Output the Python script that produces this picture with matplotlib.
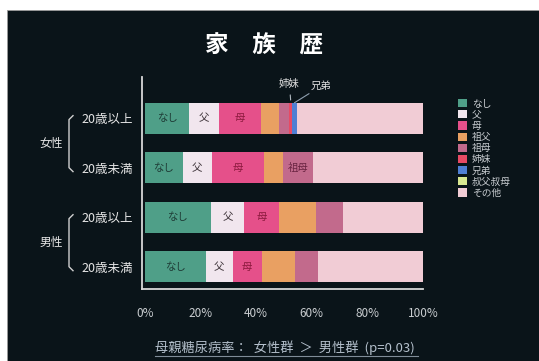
import matplotlib.pyplot as plt
from matplotlib.patches import Rectangle, Patch
from matplotlib.lines import Line2D
from matplotlib.transforms import blended_transform_factory
import numpy as np

plt.rcParams['font.family'] = ['Noto Sans CJK JP', 'DejaVu Sans']

# 家族歴の内訳 (%)
rows = ['20歳以上', '20歳未満', '20歳以上', '20歳未満']
groups = ['女性', '男性']
categories = ['なし', '父', '母', '祖父', '祖母', '姉妹', '兄弟', '叔父叔母', 'その他']
nashi  = [15.8, 13.5, 23.6, 21.8]
chichi = [10.8, 10.5, 12.1, 9.7]
haha   = [15.1, 18.8, 12.6, 10.5]
sofu   = [6.6, 6.7, 13.2, 12.0]
sobo   = [3.6, 11.1, 9.8, 8.3]
shimai = [1.1, 0.0, 0.0, 0.0]
kyodai = [1.5, 0.0, 0.0, 0.0]
ojioba = [0.0, 0.0, 0.0, 0.0]
sonota = [45.5, 39.4, 28.7, 37.7]
xticks = [0, 20, 40, 60, 80, 100]

colors = ['#4f9f88', '#f1e6ee', '#e5508a', '#e9a062', '#c26a8c',
          '#e84a64', '#4f7fd4', '#d9e890', '#f1ccd5']
label_colors = {'なし': '#1f3d37', '父': '#3a3036', '母': '#8c1a3e', '祖母': '#6a2442'}
# どのセグメントに文字を入れるか (行, 区分)
seg_labels = [(0, 'なし'), (0, '父'), (0, '母'),
              (1, 'なし'), (1, '父'), (1, '母'), (1, '祖母'),
              (2, 'なし'), (2, '父'), (2, '母'),
              (3, 'なし'), (3, '父'), (3, '母')]

bg = '#0a1419'
fig = plt.figure(figsize=(5.39, 3.61), dpi=100, facecolor='white')
W, H = 539, 361
fig.patches.append(Rectangle((7 / W, 0), 1, 1 - 10 / H, transform=fig.transFigure,
                             facecolor=bg, edgecolor='#9a9a9a', lw=0.6, zorder=-1))

ax = fig.add_axes([141.7 / W, 1 - 289 / H, 281.3 / W, 212 / H])
ax.set_facecolor(bg)

data = np.array([nashi, chichi, haha, sofu, sobo, shimai, kyodai, ojioba, sonota])
y = np.arange(len(rows))
left = np.zeros(len(rows))
segs = {}
for cat, vals, c in zip(categories, data, colors):
    ax.barh(y, vals, left=left, height=0.63, color=c, edgecolor='none', label=cat)
    for i in range(len(rows)):
        segs[(i, cat)] = (left[i], vals[i])
    left = left + vals

for i, cat in seg_labels:
    l, w = segs[(i, cat)]
    ax.text(l + w / 2, y[i], cat, ha='center', va='center', fontsize=7.5,
            color=label_colors[cat])

ax.set_xlim(-1.2, 100)
ax.set_ylim(3.45, -0.83)
ax.set_xticks(xticks)
ax.set_xticklabels([f'{t}%' for t in xticks])
ax.set_yticks(y)
ax.set_yticklabels(rows)
ax.tick_params(axis='x', length=0, pad=13, labelsize=8.5, colors='#c9cdd0')
ax.tick_params(axis='y', length=0, pad=6, labelsize=9, colors='#e6e6e6')
for s in ['top', 'right']:
    ax.spines[s].set_visible(False)
for s in ['left', 'bottom']:
    ax.spines[s].set_color('#d8d8d8')
    ax.spines[s].set_linewidth(1.3)

# 姉妹・兄弟の引き出し線
l, w = segs[(0, '姉妹')]
ax.annotate('姉妹', xy=(l + w / 2, -0.31), xytext=(l + w / 2 - 0.5, -0.58),
            ha='center', va='bottom', fontsize=7.5, color='#e0e0e0',
            arrowprops=dict(arrowstyle='-', color='#b0b8c0', lw=0.8), annotation_clip=False)
l, w = segs[(0, '兄弟')]
ax.annotate('兄弟', xy=(l + w / 2, -0.31), xytext=(l + w / 2 + 6, -0.55),
            ha='left', va='bottom', fontsize=7.5, color='#e0e0e0',
            arrowprops=dict(arrowstyle='-', color='#8fa0b0', lw=0.8,
                            shrinkA=0, shrinkB=0), annotation_clip=False)

# 性別の括弧とラベル
tr = blended_transform_factory(fig.transFigure, ax.transData)
bx = 69 / W
hook = 4 / W
for g, (a, b) in zip(groups, [(0, 1), (2, 3)]):
    y0, y1 = y[a] - 0.02, y[b] + 0.05
    ax.add_line(Line2D([bx + hook, bx, bx, bx + hook], [y0 - 0.03, y0 + 0.05, y1 - 0.05, y1 + 0.03],
                       transform=tr, color='#d0d0d0', lw=1.0, clip_on=False))
    ax.text(51 / W, (y0 + y1) / 2, g, transform=tr, ha='center', va='center',
            fontsize=8.5, color='#e6e6e6')

fig.text(264 / W, 1 - 46 / H, '家　族　歴', ha='center', va='center',
         fontsize=17, fontweight='bold', color='white')

handles = [Patch(facecolor=c, edgecolor='none') for c in colors]
leg = fig.legend(handles, categories, loc='upper left', bbox_to_anchor=(458 / W, 1 - 98.5 / H),
                 frameon=False, fontsize=7, labelspacing=0.12, handlelength=0.9,
                 handleheight=0.9, handletextpad=0.5, borderaxespad=0, borderpad=0)
for t in leg.get_texts():
    t.set_color('#c8ccd0')

fig.text(155 / W, 1 - 348 / H, '母親糖尿病率：  女性群  ＞  男性群  (p=0.03)', ha='left', va='center',
         fontsize=9.5, color='#b4c0cc')
fig.add_artist(Line2D([155 / W, 418 / W], [1 - 356 / H, 1 - 356 / H], transform=fig.transFigure,
                      color='#7f8c98', lw=0.8))

fig.savefig('out.png', dpi=100, facecolor=fig.get_facecolor())
